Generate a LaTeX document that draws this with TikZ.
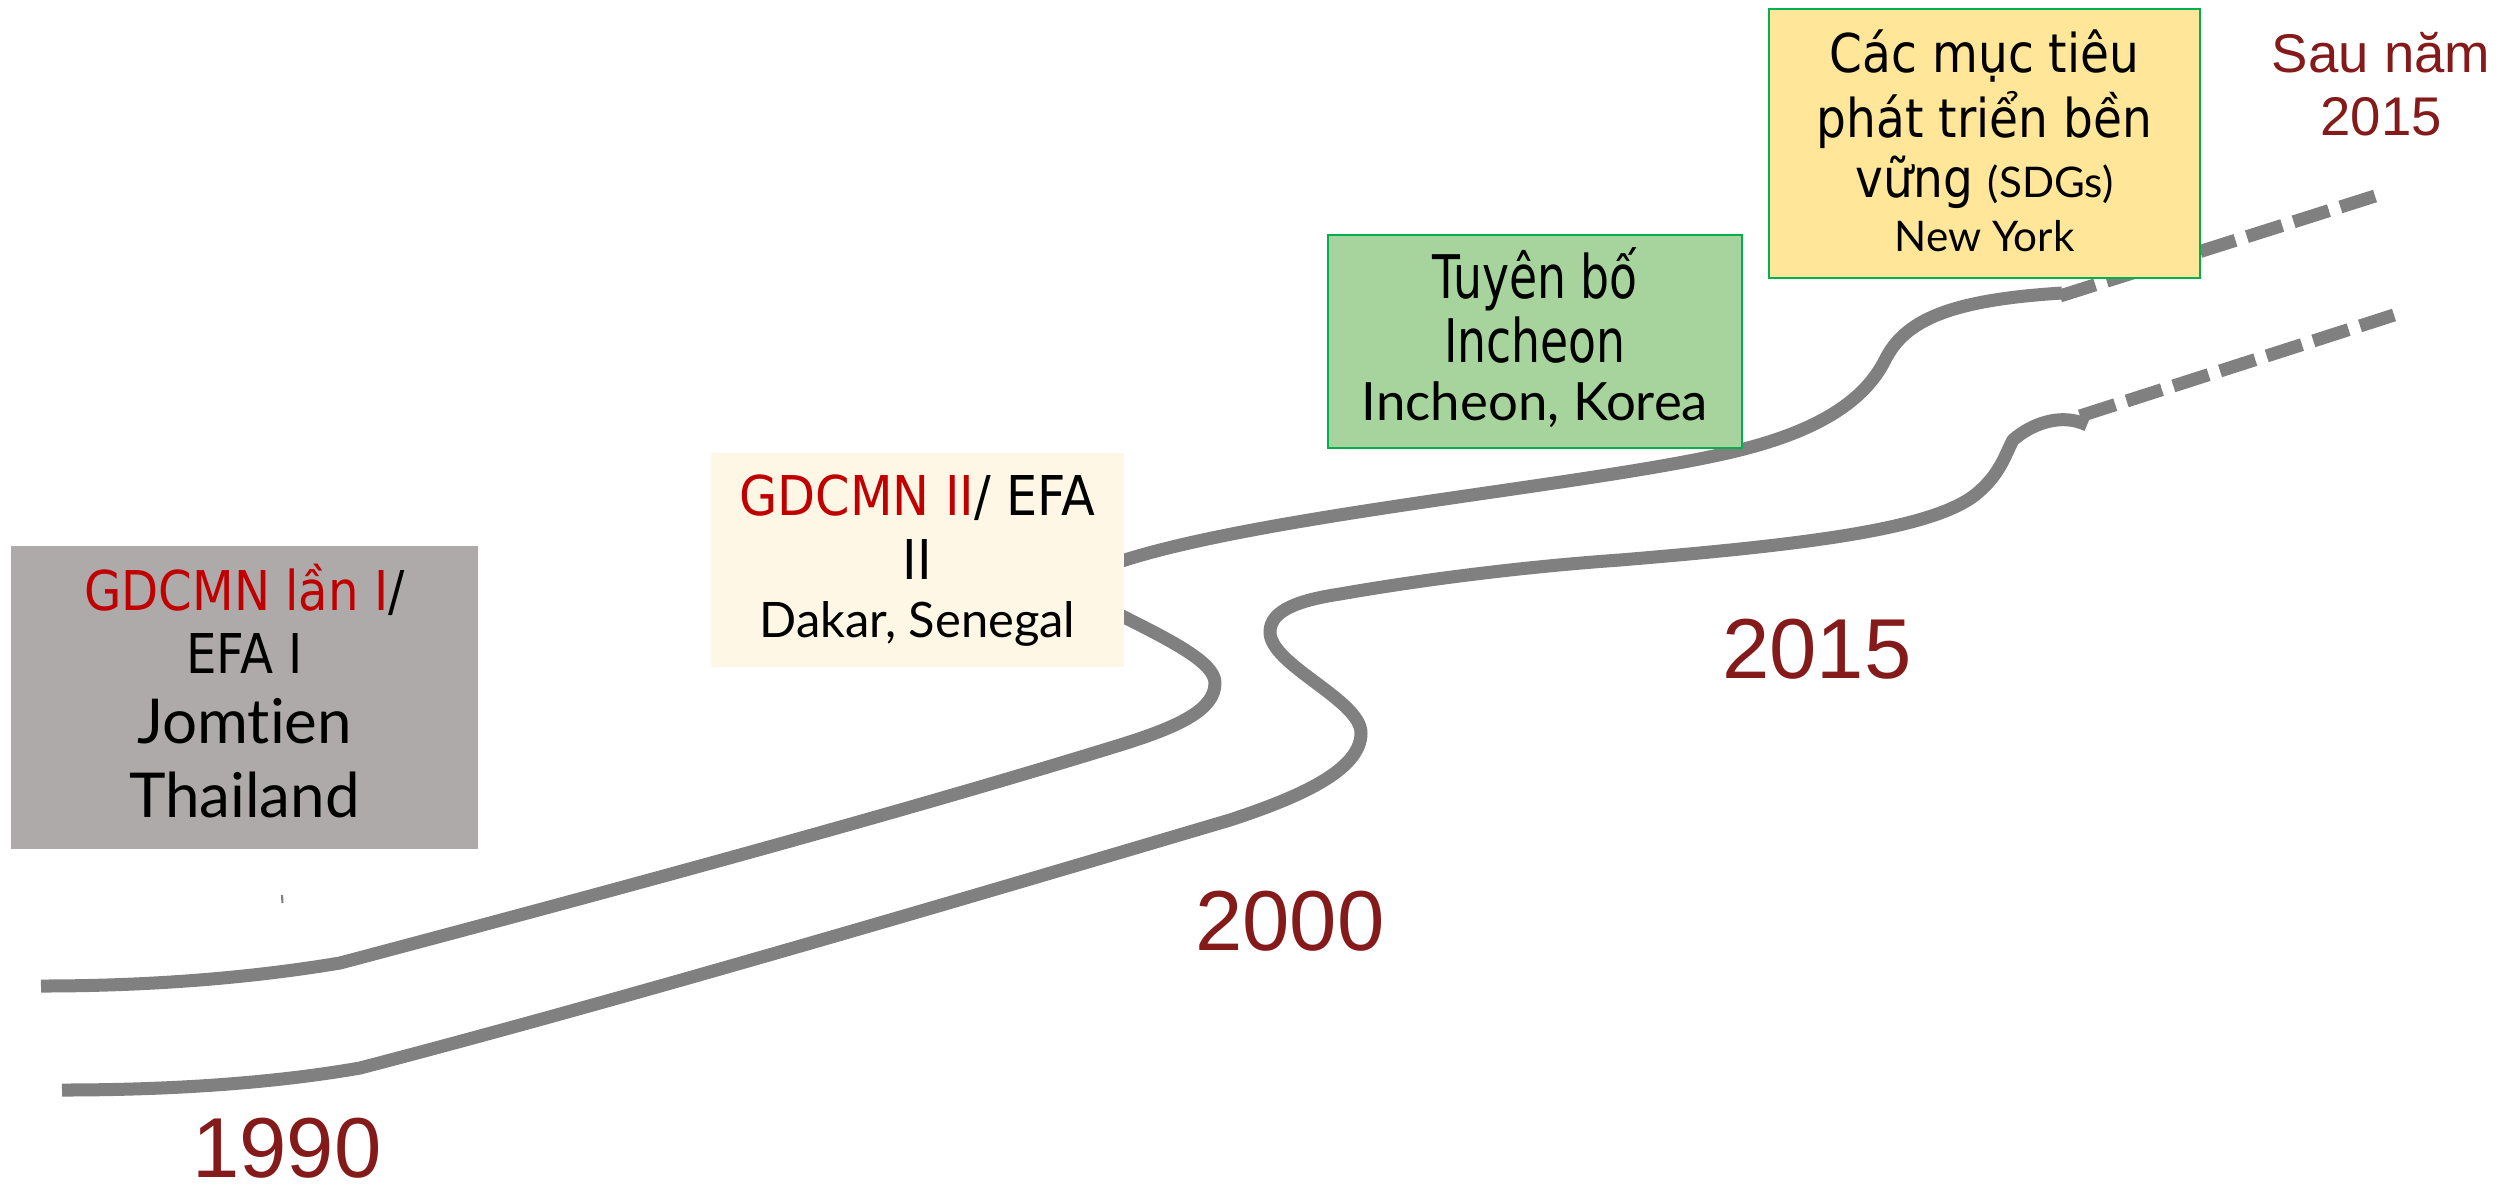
\documentclass[tikz,border=0pt]{standalone}
\usepackage{fontspec}
\setmainfont{DejaVu Sans}
\newfontfamily\tahfont[FakeStretch=0.88]{DejaVu Sans}
\newfontfamily\tahwfont[FakeStretch=0.9]{DejaVu Sans}
\newfontfamily\condfont[FakeStretch=0.76]{DejaVu Sans}
\newfontfamily\handfont[Ligatures=NoCommon]{Lato}
\newfontfamily\arialfont{Liberation Sans}
\definecolor{roadgray}{HTML}{808080}
\definecolor{redtxt}{HTML}{C00000}
\definecolor{yearred}{HTML}{841A1A}
\definecolor{boxgray}{HTML}{AEAAAA}
\definecolor{boxcream}{HTML}{FFF7E5}
\definecolor{boxgreen}{HTML}{A7D49D}
\definecolor{boxyellow}{HTML}{FFE699}
\definecolor{bordergreen}{HTML}{00B050}
\begin{document}
\begin{tikzpicture}[x=0.01cm, y=-0.01cm,
  road/.style={draw=roadgray, line width=1.3mm, line join=round},
  roaddash/.style={road, dash pattern=on 3.7mm off 1.2mm},
  boxnode/.style={anchor=north west, inner sep=0pt, outer sep=0pt},
  txt/.style={anchor=base, inner sep=0pt, outer sep=0pt},
  mainA/.style={txt, font=\tahfont\fontsize{15.6}{18}\selectfont},
  mainB/.style={txt, font=\tahwfont\fontsize{15.6}{18}\selectfont},
  mainC/.style={txt, font=\condfont\fontsize{17.1}{20}\selectfont},
  mainD/.style={txt, font=\tahfont\fontsize{15.2}{18}\selectfont},
  year/.style={txt, text depth=0pt, text=yearred, font=\arialfont\fontsize{24.2}{28}\selectfont},
  after/.style={txt, text=yearred, font=\arialfont\fontsize{15.5}{18}\selectfont}
]
\useasboundingbox (0,0) rectangle (2499,1196);
\fill[white] (0,0) rectangle (2499,1196);

% road 1
\coordinate (r1s) at (41,986);
\coordinate (r1a) at (340,963);
\coordinate (r1b) at (1120,745);
\coordinate (r1t) at (1215,683);
\coordinate (r1e) at (1110,610);
\draw[road] (r1s) .. controls (150,986) and (250,978) .. (r1a)
  .. controls (600,894) and (900,813) .. (r1b)
  .. controls (1178,727) and (1215,710) .. (r1t)
  .. controls (1215,662) and (1170,640) .. (r1e);
\coordinate (r1f) at (1110,565);
\coordinate (r1g) at (1740,450);
\coordinate (r1h) at (1885,360);
\coordinate (r1i) at (2062,293);
\draw[road] (r1f) .. controls (1250,515) and (1600,485) .. (r1g)
  .. controls (1820,430) and (1865,400) .. (r1h)
  .. controls (1905,320) and (1950,300) .. (r1i);
\coordinate (r1j) at (2060,296);
\coordinate (r1k) at (2375,196);
\draw[roaddash] (r1j) -- (r1k);

% road 2
\coordinate (r2s) at (62,1090);
\coordinate (r2a) at (360,1068);
\coordinate (r2b) at (1230,820);
\coordinate (r2t) at (1361,733);
\coordinate (r2l) at (1270,632);
\coordinate (r2c) at (1340,594);
\coordinate (r2d) at (1620,560);
\coordinate (r2e) at (1975,495);
\coordinate (r2f) at (2013,440);
\coordinate (r2g) at (2087,425);
\draw[road] (r2s) .. controls (180,1090) and (280,1082) .. (r2a)
  .. controls (640,995) and (1000,888) .. (r2b)
  .. controls (1300,797) and (1361,770) .. (r2t)
  .. controls (1361,700) and (1270,665) .. (r2l)
  .. controls (1270,610) and (1300,600) .. (r2c)
  .. controls (1420,580) and (1520,567) .. (r2d)
  .. controls (1800,545) and (1930,530) .. (r2e)
  .. controls (2000,475) and (2005,455) .. (r2f)
  .. controls (2030,425) and (2060,412) .. (r2g);
\coordinate (r2h) at (2080,416);
\coordinate (r2k) at (2394,315);
\draw[roaddash] (r2h) -- (r2k);

\coordinate (tk1) at (282,895);
\coordinate (tk2) at (282.5,903);
\draw[roadgray, line width=0.6pt] (tk1) -- (tk2);

% boxes
\node[boxnode, fill=boxgray, minimum width=4.67cm, minimum height=3.03cm] (b1) at (11,546) {};
\node[boxnode, fill=boxcream, minimum width=4.13cm, minimum height=2.14cm] (b2) at (711,453) {};
\node[boxnode, fill=boxgreen, draw=bordergreen, line width=0.6pt, minimum width=4.14cm, minimum height=2.13cm] (b3) at (1328,235) {};
\node[boxnode, fill=boxyellow, draw=bordergreen, line width=0.6pt, minimum width=4.31cm, minimum height=2.69cm] (b4) at (1769,9) {};

% box 1 text
\node[mainA] (t11) at (244.5,610) {{\color{redtxt}GDCMN lần I}/};
\node[mainA] (t12) at (244.5,673) {EFA I};
\node[txt, font=\handfont\fontsize{17.6}{20}\selectfont] (t13) at (244.5,743) {Jomtien};
\node[txt, font=\handfont\fontsize{17.6}{20}\selectfont] (t14) at (244.5,817) {Thailand};

% box 2 text
\node[mainB] (t21) at (917.5,515) {{\color{redtxt}GDCMN II}/ EFA};
\node[mainB] (t22) at (917.5,579) {II};
\node[txt, font=\handfont\fontsize{13.9}{16}\selectfont] (t23) at (917.5,637) {Dakar, Senegal};

% box 3 text
\node[mainC] (t31) at (1535,298) {Tuyên bố};
\node[mainC] (t32) at (1535,362) {Incheon};
\node[txt, font=\handfont\fontsize{15}{18}\selectfont] (t33) at (1535,420) {Incheon, Korea};

% box 4 text
\node[mainD] (t41) at (1984.5,72) {Các mục tiêu};
\node[mainD] (t42) at (1984.5,137) {phát triển bền};
\node[mainD] (t43) at (1984.5,197) {vững {\handfont\fontsize{12}{14}\selectfont (SDGs)}};
\node[txt, font=\handfont\fontsize{12}{14}\selectfont] (t44) at (1984.5,251) {New York};

% years
\node[year] (y1990) at (287,1177) {1990};
\node[year] (y2000) at (1290,950) {2000};
\node[year] (y2015) at (1817,678) {2015};
\node[after] (s1) at (2381,72) {Sau năm};
\node[after] (s2) at (2381,135) {2015};
\end{tikzpicture}
\end{document}
